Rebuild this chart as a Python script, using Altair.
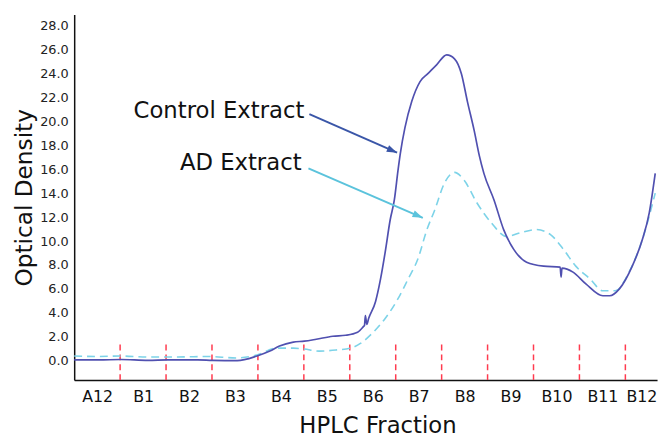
import altair as alt
import pandas as pd

# Fractions (x in fraction units: boundary k sits between fraction k-1 and k)
fraction_labels = ["A12", "B1", "B2", "B3", "B4", "B5", "B6", "B7", "B8", "B9", "B10", "B11", "B12"]
label_positions = [0.5, 1.5, 2.5, 3.5, 4.5, 5.5, 6.5, 7.5, 8.5, 9.5, 10.5, 11.5, 12.35]
boundaries = [1, 2, 3, 4, 5, 6, 7, 8, 9, 10, 11, 12]
y_ticks = [0, 2, 4, 6, 8, 10, 12, 14, 16, 18, 20, 22, 24, 26, 28]

control_x = [0.00, 0.54, 1.01, 1.61, 2.04, 2.69, 3.01, 3.55, 3.98, 4.26, 4.47, 4.77, 5.01, 5.27,
             5.63, 5.91, 6.17, 6.30, 6.32, 6.34, 6.37, 6.41, 6.56, 6.67, 6.77, 6.88, 6.97, 7.05,
             7.10, 7.20, 7.35, 7.53, 7.70, 7.89, 8.11, 8.28, 8.43, 8.56, 8.71, 8.82, 8.92, 9.14,
             9.35, 9.57, 9.85, 10.22, 10.58, 10.60, 10.62, 10.86, 11.14, 11.51, 11.66, 11.87,
             12.15, 12.37, 12.52, 12.65]
control_y = [0.08, 0.08, 0.12, 0.04, 0.08, 0.08, 0.04, 0.02, 0.41, 0.82, 1.24, 1.57, 1.65, 1.81,
             2.06, 2.14, 2.39, 2.88, 2.97, 3.79, 3.05, 3.54, 4.94, 6.84, 9.06, 11.78, 13.43, 15.90,
             17.30, 19.44, 21.66, 23.31, 23.97, 24.71, 25.54, 25.21, 23.97, 21.66, 19.19, 17.13, 15.65, 13.43,
             10.96, 9.31, 8.24, 7.91, 7.83, 7.00, 7.74, 7.41, 6.43, 5.44, 5.44, 6.01,
             7.91, 10.13, 12.36, 15.65]

ad_x = [0.00, 0.54, 1.01, 1.61, 2.26, 2.90, 3.55, 3.98, 4.41, 4.77, 5.01, 5.33, 5.70, 6.02,
        6.24, 6.49, 6.77, 7.05, 7.27, 7.48, 7.68, 7.85, 8.06, 8.28, 8.49, 8.77, 9.08, 9.42,
        9.72, 10.06, 10.37, 10.65, 10.92, 11.23, 11.51, 11.78, 12.08, 12.37, 12.65]
ad_y = [0.41, 0.37, 0.41, 0.33, 0.33, 0.37, 0.25, 0.49, 1.07, 1.07, 0.99, 0.82, 0.91, 1.07,
        1.48, 2.31, 3.54, 5.19, 6.84, 8.48, 10.96, 12.60, 14.83, 15.73, 15.07, 13.18, 11.53, 10.38,
        10.71, 10.96, 10.54, 9.31, 7.91, 6.84, 5.85, 5.85, 7.41, 10.13, 14.00]

# Annotations
ann_text = ["Control Extract", "AD Extract"]
ann_x = [5.01, 4.95]
ann_y = [20.84, 16.47]
arrow_x = [5.12, 5.10]
arrow_y = [20.6, 16.06]
arrow_x2 = [7.03, 7.59]
arrow_y2 = [17.38, 11.94]
arrow_angle = [113.7, 113.3]
arrow_color = ["#3a56a8", "#5bc3dc"]

XDOM = [0, 12.69]
YDOM = [-1.6, 28.9]

ctrl = pd.DataFrame({"x": control_x, "y": control_y})
ad = pd.DataFrame({"x": ad_x, "y": ad_y})
bnd = pd.DataFrame({"x": boundaries, "y0": [YDOM[0]] * len(boundaries), "y1": [1.5] * len(boundaries)})
ann = pd.DataFrame({"text": ann_text, "x": ann_x, "y": ann_y, "ax": arrow_x, "ay": arrow_y,
                    "ax2": arrow_x2, "ay2": arrow_y2, "angle": arrow_angle, "color": arrow_color})

label_expr = "[" + ",".join("'%s'" % s for s in fraction_labels) + "][floor(datum.value)]"

xscale = alt.Scale(domain=XDOM, nice=False, zero=False)
yscale = alt.Scale(domain=YDOM, nice=False, zero=False)

x_axis = alt.Axis(values=label_positions, labelExpr=label_expr, ticks=False, grid=False,
                  domainColor="#111111", domainWidth=1.5, labelFont="DejaVu Sans",
                  labelFontSize=16, labelColor="#111111", labelPadding=9, labelOverlap=False,
                  title="HPLC Fraction", titleFont="DejaVu Sans", titleFontSize=23,
                  titleFontWeight="normal", titleColor="#111111", titleX=307, titleY=46,
                  titleBaseline="middle", titleAlign="center")
y_axis = alt.Axis(values=y_ticks, format=".1f", ticks=False, grid=False,
                  domainColor="#111111", domainWidth=1.5, labelFont="DejaVu Sans",
                  labelFontSize=13, labelColor="#222222", labelPadding=6, labelOverlap=False,
                  labelBound=False, labelFlush=False,
                  title="Optical Density", titleFont="DejaVu Sans", titleFontSize=23.5,
                  titleFontWeight="normal", titleColor="#111111", titleX=-50, titleY=185,
                  titleAngle=-90, titleBaseline="middle", titleAlign="center")


def X(field):
    return alt.X(field, type="quantitative", scale=xscale, axis=x_axis, title="HPLC Fraction")


def Y(field):
    return alt.Y(field, type="quantitative", scale=yscale, axis=y_axis, title="Optical Density")


ticks = alt.Chart(bnd).mark_rule(color="#ff3b4f", strokeWidth=1.5, strokeDash=[6, 4]).encode(
    x=X("x"), y=Y("y0"), y2="y1:Q",
)

ad_line = alt.Chart(ad).mark_line(color="#7dd3e8", strokeWidth=1.6, strokeDash=[8, 5],
                                  interpolate="monotone").encode(x=X("x"), y=Y("y"))

ctrl_line = alt.Chart(ctrl).mark_line(color="#5050b0", strokeWidth=1.7,
                                      interpolate="monotone").encode(x=X("x"), y=Y("y"))

arrows = alt.Chart(ann).mark_rule(strokeWidth=2).encode(
    x=X("ax"), y=Y("ay"), x2="ax2:Q", y2="ay2:Q",
    color=alt.Color("color:N", scale=None),
)

heads = alt.Chart(ann).mark_point(shape="M0,0 L-0.55,1.6 L0.55,1.6 Z", filled=True,
                                  size=170, opacity=1).encode(
    x=X("ax2"), y=Y("ay2"),
    angle=alt.Angle("angle:Q", scale=None),
    color=alt.Color("color:N", scale=None),
)

texts = alt.Chart(ann).mark_text(align="right", baseline="middle", font="DejaVu Sans",
                                 fontSize=23, color="#111111").encode(
    x=X("x"), y=Y("y"), text="text:N")

chart = alt.layer(ticks, ad_line, ctrl_line, arrows, heads, texts).properties(
    width=590, height=370,
    background="white",
    autosize=alt.AutoSizeParams(type="none"),
    padding={"left": 67, "top": 4, "right": 5, "bottom": 59},
).configure_view(stroke=None).configure_axis(labelOverlap=False)

chart.save("out.html", embed_options={"renderer": "svg", "actions": False})
